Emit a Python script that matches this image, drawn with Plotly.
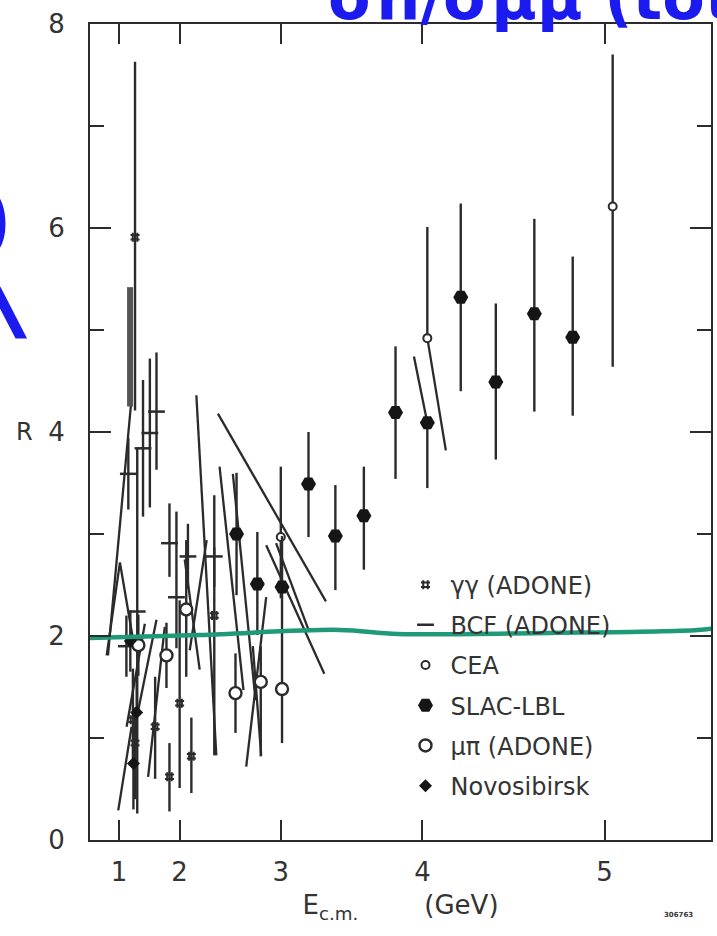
import numpy as np
import plotly.graph_objects as go

# ---- data: E_cm in GeV, R = sigma(e+e- -> hadrons) / sigma(e+e- -> mu mu) ----
slac_E = [2.61, 2.80, 3.01, 3.22, 3.42, 3.62, 3.83, 4.03, 4.23, 4.43, 4.64, 4.84]
slac_R = [3.00, 2.51, 2.48, 3.49, 2.98, 3.18, 4.19, 4.09, 5.32, 4.49, 5.16, 4.93]
slac_up = [0.60, 0.51, 0.50, 0.51, 0.50, 0.48, 0.65, 0.00, 0.92, 0.77, 0.93, 0.79]
slac_dn = [0.60, 0.50, 0.50, 0.52, 0.53, 0.53, 0.65, 0.64, 0.92, 0.76, 0.96, 0.77]

cea_E = [3.00, 4.03, 5.04]
cea_R = [2.97, 4.92, 6.21]
cea_up = [0.69, 1.09, 1.49]
cea_dn = [0.60, 0.00, 1.57]

mupi_E = [1.40, 1.83, 2.08, 2.60, 2.83, 3.01]
mupi_R = [1.91, 1.81, 2.26, 1.44, 1.55, 1.48]
mupi_up = [0.30, 0.32, 0.68, 0.39, 0.35, 0.50]
mupi_dn = [0.30, 0.32, 0.66, 0.39, 0.73, 0.53]

gg_E = [1.34, 1.34, 1.30, 1.67, 1.87, 2.00, 2.14, 2.39]
gg_R = [5.91, 0.95, 1.18, 1.11, 0.62, 1.34, 0.82, 2.20]
gg_up = [1.72, 0.35, 0.50, 0.49, 0.33, 1.01, 0.38, 0.67]
gg_dn = [1.70, 0.55, 0.45, 0.51, 0.34, 0.83, 0.36, 1.37]

bcf_E = [1.21, 1.48, 1.59, 1.69, 1.38, 1.17, 1.87, 1.96, 2.10, 2.39]
bcf_R = [3.59, 3.84, 3.99, 4.20, 2.24, 1.90, 2.91, 2.38, 2.78, 2.78]
bcf_up = [0.35, 0.67, 0.73, 0.58, 1.60, 0.30, 0.39, 0.84, 0.32, 0.60]
bcf_dn = [0.35, 0.67, 0.73, 0.57, 1.98, 0.30, 0.33, 0.50, 0.32, 0.30]

novo_E = [1.25, 1.37, 1.31]
novo_R = [1.95, 1.25, 0.75]
novo_err = [0.30, 0.35, 0.45]

# broad band of overlapping measurements near 1.25 GeV
band_E = [1.245, 1.245]
band_R = [5.42, 4.25]

# slanted error segments: (E0, R0) -> (E1, R1)
seg_E0 = [1.261, 1.024, 1.024, 2.197, 2.427, 2.877, 2.444, 2.575, 2.700, 2.760,
          3.947, 4.030, 2.062, 2.310, 0.983, 1.510, 1.690, 1.807, 2.961]
seg_R0 = [4.26, 2.72, 2.72, 4.36, 4.18, 2.89, 3.66, 3.59, 0.72, 1.90,
          4.74, 4.92, 2.75, 2.94, 0.29, 2.12, 2.16, 2.09, 2.91]
seg_E1 = [0.677, 0.628, 1.337, 2.411, 3.351, 3.339, 2.675, 2.784, 2.877, 2.834,
          4.030, 4.142, 2.234, 2.121, 1.275, 1.174, 1.397, 1.563, 3.226]
seg_R1 = [1.81, 1.81, 1.86, 0.83, 2.34, 1.63, 1.47, 1.37, 2.38, 0.83,
          4.09, 3.82, 1.67, 1.86, 1.11, 1.11, 1.27, 0.62, 2.04]

# hand-drawn reference line near R = 2 (x given directly as s = E^2, GeV^2)
guide_s = [-0.6, 5.0, 11.9, 14.8, 22.2, 29.6, 31.0]
guide_R = [1.98, 2.01, 2.06, 2.02, 2.03, 2.06, 2.09]

tick_E = [1, 2, 3, 4, 5]
tick_labels = ["1", "2", "3", "4", "5"]

INK = "#2b2b2b"
FONT = "DejaVu Sans"
BLUE = "#1b1bf0"


def s(E):
    return (np.asarray(E, dtype=float)) ** 2


def err(up, dn):
    return dict(type="data", symmetric=False, array=up, arrayminus=dn,
                color=INK, thickness=2.4, width=0)


fig = go.Figure()

# slanted segments
xs, ys = [], []
for e0, r0, e1, r1 in zip(seg_E0, seg_R0, seg_E1, seg_R1):
    xs += [e0 ** 2, e1 ** 2, None]
    ys += [r0, r1, None]
fig.add_trace(go.Scatter(x=xs, y=ys, mode="lines", showlegend=False,
                         line=dict(color=INK, width=2.3), hoverinfo="skip"))
fig.add_trace(go.Scatter(x=s(band_E), y=band_R, mode="lines", showlegend=False,
                         line=dict(color="#555", width=6), hoverinfo="skip"))

fig.add_trace(go.Scatter(
    x=s(gg_E), y=gg_R, mode="markers", name="\u03b3\u03b3 (ADONE)",
    legendgroup="a", error_y=err(gg_up, gg_dn),
    marker=dict(symbol="hash-open", size=9, color=INK, line=dict(color=INK, width=2))))
fig.add_trace(go.Scatter(
    x=s(bcf_E), y=bcf_R, mode="markers", name="BCF (ADONE)",
    legendgroup="b", error_y=err(bcf_up, bcf_dn),
    marker=dict(symbol="line-ew-open", size=12, color=INK, line=dict(color=INK, width=2.5))))
fig.add_trace(go.Scatter(
    x=s(cea_E), y=cea_R, mode="markers", name="CEA",
    legendgroup="c", error_y=err(cea_up, cea_dn),
    marker=dict(symbol="circle", size=8, color="white", line=dict(color=INK, width=2))))
fig.add_trace(go.Scatter(
    x=s(slac_E), y=slac_R, mode="markers", name="SLAC-LBL",
    legendgroup="d", error_y=err(slac_up, slac_dn),
    marker=dict(symbol="hexagon2", size=15, color="#151515")))
fig.add_trace(go.Scatter(
    x=s(mupi_E), y=mupi_R, mode="markers", name="\u03bc\u03c0 (ADONE)",
    legendgroup="e", error_y=err(mupi_up, mupi_dn),
    marker=dict(symbol="circle", size=12, color="white", line=dict(color=INK, width=2.4))))
fig.add_trace(go.Scatter(
    x=s(novo_E), y=novo_R, mode="markers", name="Novosibirsk",
    legendgroup="f", error_y=err(novo_err, novo_err),
    marker=dict(symbol="diamond", size=10, color="#151515")))

# green guide line
fig.add_trace(go.Scatter(x=guide_s, y=guide_R, mode="lines", showlegend=False,
                         line=dict(color="#1f9a78", width=4.5, shape="spline"),
                         hoverinfo="skip"))

axis_common = dict(showline=True, linecolor=INK, linewidth=2, mirror="allticks",
                   ticks="inside", tickcolor=INK, tickwidth=2, showgrid=False,
                   zeroline=False, tickfont=dict(family=FONT, size=26, color="#333"))

fig.update_xaxes(range=[-0.43, 30.26], tickvals=s(tick_E).tolist(), ticktext=tick_labels,
                 ticklen=20, ticklabelstandoff=8,
                 title=dict(text="E<sub>c.m.</sub>\u00a0\u00a0\u00a0\u00a0\u00a0\u00a0\u00a0\u00a0(GeV)",
                            font=dict(family=FONT, size=26, color="#333"), standoff=10),
                 **axis_common)
fig.update_yaxes(range=[0, 8], tickvals=[0, 2, 4, 6, 8], ticklen=21, ticklabelstandoff=18,
                 minor=dict(ticks="inside", ticklen=14, tickwidth=2, tickcolor=INK, dtick=1),
                 **axis_common)

fig.add_annotation(text="R", xref="paper", yref="y", x=-0.106, y=4, xanchor="center",
                   yanchor="middle", showarrow=False,
                   font=dict(family=FONT, size=24, color="#333"))
fig.add_annotation(text="306763", xref="paper", yref="paper", x=0.947, y=-0.092,
                   xanchor="center", yanchor="middle", showarrow=False,
                   font=dict(family=FONT, size=7, color="#333", weight=700))
# handwritten notes in blue ink
fig.add_annotation(text="\u03c3h/\u03c3\u03bc\u03bc (tot", xref="paper", yref="paper",
                   x=0.71, y=1.033, xanchor="center", yanchor="middle", showarrow=False,
                   font=dict(family=FONT, size=62, color=BLUE, weight=700))
fig.add_annotation(text="R", xref="paper", yref="paper", x=-0.205, y=0.708,
                   xanchor="center", yanchor="middle", showarrow=False,
                   font=dict(family=FONT, size=220, color=BLUE, weight=300))

fig.update_layout(
    width=717, height=936, margin=dict(l=90, r=4, t=24, b=96),
    paper_bgcolor="white", plot_bgcolor="white",
    legend=dict(x=0.5, y=0.34, xanchor="left", yanchor="top", bgcolor="rgba(0,0,0,0)",
                font=dict(family=FONT, size=24, color="#333"), traceorder="grouped",
                tracegroupgap=6, itemwidth=40),
)

fig.write_html("out.html")
